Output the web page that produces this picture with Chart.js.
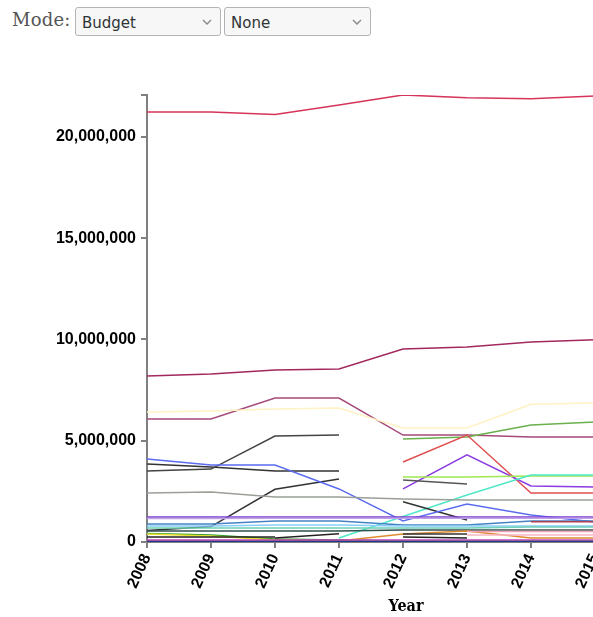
<!DOCTYPE html>
<html>
<head>
<meta charset="utf-8">
<script src="https://cdn.jsdelivr.net/npm/chart.js@4/dist/chart.umd.min.js"></script>
<style>
  html,body{margin:0;padding:0;background:#fff;}
  body{width:593px;height:617px;overflow:hidden;position:relative;}
  #modeLabel{position:absolute;left:12px;top:9px;font-family:"DejaVu Serif",serif;font-size:18px;color:#555;letter-spacing:0.2px;}
  select{position:absolute;top:7px;height:29px;-webkit-appearance:none;appearance:none;
    font-family:"DejaVu Sans",sans-serif;font-size:15px;color:#2e3436;
    background:#f6f6f6 url("data:image/svg+xml;utf8,<svg xmlns='http://www.w3.org/2000/svg' width='10' height='6'><polyline points='1,1 5,5 9,1' fill='none' stroke='%23888' stroke-width='1.4'/></svg>") no-repeat right 8px center;
    background-color:#f7f7f7;border:1px solid #b3b3b3;border-radius:3px;padding:2px 0 0 6px;margin:0;}
  #sel1{left:75px;width:146px;}
  #sel2{left:224px;width:147px;}
  #c{position:absolute;left:0;top:50px;}
</style>
</head>
<body>
<span id="modeLabel">Mode:</span>
<select id="sel1"><option>Budget</option></select>
<select id="sel2"><option>None</option></select>
<canvas id="c" width="640" height="567"></canvas>
<script>
// ---- data ----
const years = ["2008","2009","2010","2011","2012","2013","2014","2015"];
const yTicks = [0, 5000000, 10000000, 15000000, 20000000];
const xTitle = "Year";

const s01 = [21230000, 21230000, 21110000, 21580000, 22070000, 21940000, 21880000, 22020000];
const s02 = [8200000, 8300000, 8490000, 8540000, 9530000, 9630000, 9880000, 9980000];
const s03 = [6070000, 6070000, 7110000, 7110000, 5280000, 5280000, 5190000, 5190000];
const s04 = [6420000, 6470000, 6570000, 6620000, 5630000, 5630000, 6800000, 6860000];
const s05 = [null, null, null, null, 5090000, 5190000, 5780000, 5930000];
const s06 = [null, null, null, null, 3950000, 5280000, 2420000, 2420000];
const s07 = [null, null, null, null, 2620000, 4300000, 2770000, 2720000];
const s08 = [null, null, null, null, 3210000, 3210000, 3260000, 3260000];
const s09 = [null, null, null, 200000, 1260000, 2320000, 3310000, 3310000];
const s10 = [3850000, 3700000, 3510000, 3510000, null, null, null, null];
const s11 = [3510000, 3600000, 5230000, 5280000, null, null, null, null];
const s12 = [570000, 760000, 2600000, 3110000, null, null, null, null];
const s13 = [null, null, null, null, 3060000, 2860000, null, null];
const s14 = [null, null, null, null, 1990000, 1090000, null, null];
const s15 = [4100000, 3800000, 3800000, 2620000, 1040000, 1880000, 1330000, 990000];
const s16 = [2420000, 2470000, 2220000, 2220000, 2120000, 2070000, 2070000, 2070000];
const s17 = [1230000, 1230000, 1240000, 1240000, 1240000, 1240000, 1240000, 1240000];
const s18 = [1160000, 1160000, 1170000, 1170000, 1170000, 1170000, 1170000, 1170000];
const s19 = [890000, 890000, 1040000, 1040000, 840000, 840000, 1040000, 1040000];
const s20 = [null, null, null, null, null, null, 1000000, 1000000];
const s21 = [790000, 790000, 840000, 840000, 790000, 790000, 790000, 790000];
const s22 = [690000, 690000, 690000, 690000, 690000, 690000, 740000, 740000];
const s23 = [540000, 540000, 540000, 540000, 590000, 590000, 590000, 590000];
const s24 = [420000, 350000, 150000, 100000, 50000, 50000, 50000, 50000];
const s25 = [400000, 300000, 100000, 50000, 50000, 50000, 50000, 50000];
const s26 = [50000, 50000, 50000, 50000, 400000, 540000, 200000, 200000];
const s27 = [null, null, null, null, null, 350000, 350000, 350000];
const s28 = [null, null, null, null, null, 520000, 520000, 520000];
const s29 = [100000, 100000, 100000, 100000, 100000, 100000, 100000, 100000];
const s30 = [null, null, null, null, 400000, 400000, null, null];
const s31 = [null, null, null, null, 250000, 200000, null, null];
const s32 = [null, null, 200000, 410000, null, null, null, null];
const s33 = [250000, 250000, 250000, null, null, null, null, null];
const s34 = [30000, 30000, 30000, 30000, 30000, 30000, 30000, 30000];

const seriesList = [s34,s29,s33,s32,s31,s30,s28,s27,s26,s25,s24,s23,s22,s21,s20,s19,s18,s17,s16,s15,s14,s13,s12,s11,s10,s09,s08,s07,s06,s05,s04,s03,s02,s01];
const colorList  = ["#1f3a8a","#c040c0","#222222","#222222","#222222","#333333","#f4a0b4","#f6b6c4","#e08a30","#e8e030","#2a9a2a","#2f4f4f","#70d0b8","#87cefa","#b04050","#4682c4","#c0a0e8","#7b3fd0","#9aa098","#5b6cf0","#333333","#555555","#333333","#444444","#333333","#50e8c8","#a0e850","#8a3be2","#e05050","#6ab04c","#fff2c4","#a54a7a","#a3285e","#d6345a"];

// ---- chart ----
const allVals = seriesList.flat().filter(v => v !== null);
const yMax = Math.max(...allVals);

const datasets = seriesList.map((d, i) => ({
  data: d,
  borderColor: colorList[i],
  borderWidth: 1.5,
  pointRadius: 0,
  fill: false,
  tension: 0,
  spanGaps: false
}));

const axisColor = "#808080";
const tickFont = {family: "'Liberation Sans', Arial, sans-serif", weight: "bold", size: 16};

const extras = {
  id: "extras",
  afterDraw(chart) {
    const c = chart.ctx, a = chart.chartArea;
    c.save();
    c.strokeStyle = axisColor;
    c.lineWidth = 2;
    c.beginPath();
    c.moveTo(a.left - 6, a.top);
    c.lineTo(a.left, a.top);
    c.stroke();
    c.fillStyle = "#000";
    c.font = "bold 16px 'DejaVu Serif Condensed', 'DejaVu Serif', serif";
    c.textAlign = "center";
    c.textBaseline = "middle";
    c.fillText(xTitle, 406, 557);
    c.restore();
  }
};

new Chart(document.getElementById("c"), {
  type: "line",
  data: {labels: years, datasets},
  options: {
    responsive: false,
    animation: false,
    devicePixelRatio: 1,
    layout: {padding: {top: 45, right: 45, left: 0, bottom: 0}},
    plugins: {legend: {display: false}, tooltip: {enabled: false}},
    scales: {
      x: {
        type: "category",
        offset: false,
        grid: {drawOnChartArea: false, tickLength: 6, color: axisColor, lineWidth: 2},
        border: {color: axisColor, width: 2},
        ticks: {font: tickFont, color: "#000", minRotation: 65, maxRotation: 65, autoSkip: false, padding: 3},
        afterFit(s) { s.height = 75; }
      },
      y: {
        min: 0,
        max: yMax,
        grid: {drawOnChartArea: false, tickLength: 6, color: axisColor, lineWidth: 2},
        border: {color: axisColor, width: 2},
        afterBuildTicks(s) { s.ticks = yTicks.map(v => ({value: v})); },
        ticks: {font: tickFont, color: "#000", padding: 5,
                callback: v => Number(v).toLocaleString("en-US")},
        afterFit(s) { s.width = 147; }
      }
    }
  },
  plugins: [extras]
});
</script>
</body>
</html>
